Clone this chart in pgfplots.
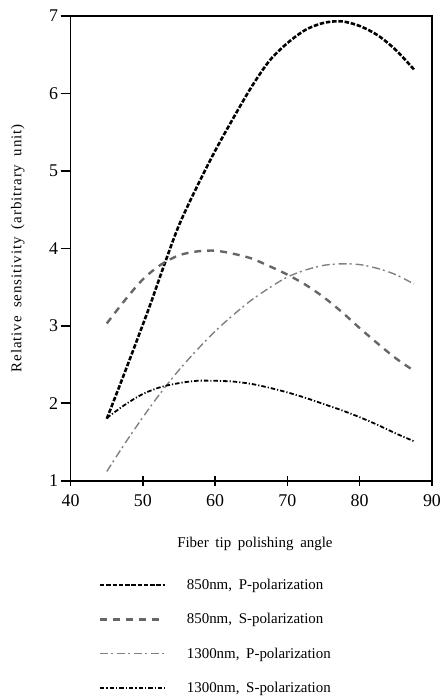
\documentclass[border=0pt]{standalone}
\usepackage{fontspec}
\setmainfont{Liberation Serif}[WordSpace=1.8]
\usepackage{pgfplots}
\pgfplotsset{compat=1.18}

\begin{document}
\begin{tikzpicture}
\begin{axis}[
    name=ax,
    scale only axis,
    width=363pt, height=467pt,
    xmin=40, xmax=90, ymin=1, ymax=7,
    xtick={40,50,...,90}, ytick={1,2,...,7},
    xtick pos=bottom, ytick pos=left,
    xtick align=center, ytick align=outside,
    major tick length=10pt,
    tick style={black, line width=1.6pt},
    axis line style={line width=1.6pt},
    /pgf/number format/assume math mode=true,
    tick label style={font=\fontsize{18}{21}\selectfont},
    xticklabel style={yshift=-5pt},
    yticklabel style={xshift=1pt},
    label style={font=\fontsize{15}{18}\selectfont},
    xlabel={Fiber tip polishing angle},
    ylabel={\addfontfeatures{LetterSpace=6}Relative sensitivity (arbitrary unit)},
    xlabel style={at={(axis description cs:0.51,-0.135)}, anchor=center},
    ylabel style={at={(axis description cs:-0.146,0.5)}, anchor=center},
    legend style={
        at={(axis description cs:0.077,-0.207)}, anchor=north west,
        draw=none, fill=none, inner sep=0pt, row sep=18.6pt,
        font=\fontsize{15}{18}\selectfont,
        /tikz/every odd column/.append style={column sep=19pt},
    },
    legend cell align=left,
    legend image code/.code={\draw[#1] (0pt,0pt) -- (65pt,0pt);},
]

% 850nm, P-polarization
\addplot[black, line width=2.6pt, dash pattern=on 4.5pt off 1.8pt, smooth] coordinates {
    (45,1.80) (47,2.28) (49,2.77) (51,3.27) (53,3.80) (55,4.30) (57.5,4.80)
    (60,5.26) (62.5,5.68) (65,6.08) (67.5,6.42) (70,6.65) (72.5,6.82) (75,6.91)
    (77.5,6.93) (80,6.87) (82.5,6.75) (85,6.56) (87.5,6.31)
};
\addlegendentry{850nm, P-polarization}

% 850nm, S-polarization
\addplot[black!60, line width=2.4pt, dash pattern=on 7pt off 6pt, smooth] coordinates {
    (45,3.03) (47.5,3.33) (50,3.60) (52.5,3.79) (55,3.91) (57.5,3.96) (60,3.97)
    (62.5,3.93) (65,3.87) (67.5,3.77) (70,3.66) (72.5,3.53) (75,3.37) (77.5,3.18)
    (80,2.97) (82.5,2.77) (85,2.58) (87.5,2.42)
};
\addlegendentry{850nm, S-polarization}

% 1300nm, P-polarization
\addplot[black!50, line width=1.4pt, dash pattern=on 8pt off 3pt on 2pt off 4pt, smooth] coordinates {
    (45,1.12) (47.5,1.48) (50,1.82) (52.5,2.14) (55,2.43) (57.5,2.69) (60,2.93)
    (62.5,3.14) (65,3.33) (67.5,3.49) (70,3.63) (72.5,3.72) (75,3.78) (77.5,3.80)
    (80,3.79) (82.5,3.74) (85,3.66) (87.5,3.54)
};
\addlegendentry{1300nm, P-polarization}

% 1300nm, S-polarization
\addplot[black, line width=1.8pt, dash pattern=on 4.5pt off 2pt on 1.2pt off 2pt, smooth] coordinates {
    (45,1.81) (47.5,1.98) (50,2.12) (52.5,2.21) (55,2.26) (57.5,2.29) (60,2.29)
    (62.5,2.28) (65,2.25) (67.5,2.20) (70,2.14) (72.5,2.07) (75,1.99) (77.5,1.91)
    (80,1.82) (82.5,1.72) (85,1.61) (87.5,1.51)
};
\addlegendentry{1300nm, S-polarization}

\end{axis}
% page size as in the scan
\path ([xshift=-71pt,yshift=-213pt]ax.south west) rectangle ([xshift=8pt,yshift=16pt]ax.north east);
\end{tikzpicture}
\end{document}
